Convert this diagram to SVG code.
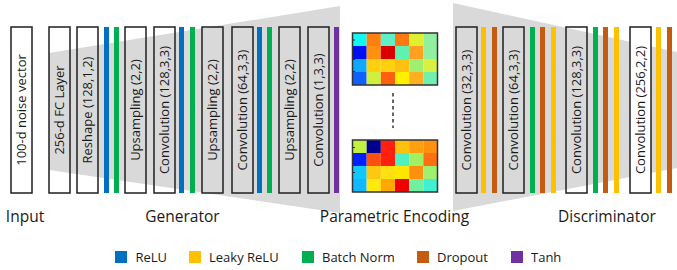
<svg xmlns="http://www.w3.org/2000/svg" width="677" height="270" viewBox="0 0 677 270">
<style>
.bg{fill:#ffffff}
.zone{fill:#d9d9d9}
.box{fill:none;stroke:#1f1f1f;stroke-width:1.5}
.wbox{fill:#ffffff;stroke:#1f1f1f;stroke-width:1.5}
.lbl{font-family:"Open Sans","Liberation Sans",sans-serif;font-size:13px;fill:#1a1a1a;text-anchor:middle}
.cap{font-family:"Open Sans","Liberation Sans",sans-serif;font-size:15.5px;fill:#1a1a1a;text-anchor:middle}
.leg{font-family:"Open Sans","Liberation Sans",sans-serif;font-size:13px;fill:#1a1a1a}
.relu{fill:#0070c0}
.lrelu{fill:#ffc000}
.bn{fill:#00b050}
.drop{fill:#c55a11}
.tanh{fill:#7030a0}
.mframe{fill:none;stroke:#333333;stroke-width:1.5}
.tick{stroke:#333333;stroke-width:1}
</style>
<rect class="bg" x="0" y="0" width="677" height="270"/>

<!-- shaded regions -->
<polygon class="zone" points="49,53 340,6 340,213 49,170"/>
<polygon class="zone" points="453,3 677,52 677,168 453,211"/>

<!-- Input -->
<g id="input">
  <rect class="wbox" x="11" y="27" width="21" height="166"/>
  <text class="lbl" transform="translate(21.5,110) rotate(-90)" dy="0.35em">100-d noise vector</text>
</g>

<!-- Generator -->
<g id="generator">
  <g id="fc"><rect class="box" x="49" y="27" width="21" height="166"/>
    <text class="lbl" transform="translate(59.5,110) rotate(-90)" dy="0.35em">256-d FC Layer</text></g>
  <g id="reshape"><rect class="box" x="77" y="27" width="21" height="166"/>
    <text class="lbl" transform="translate(87.5,110) rotate(-90)" dy="0.35em">Reshape (128,1,2)</text></g>
  <rect class="relu" x="104" y="27" width="5" height="166"/>
  <rect class="bn" x="114" y="27" width="5" height="166"/>
  <g id="up1"><rect class="box" x="125" y="27" width="21" height="166"/>
    <text class="lbl" transform="translate(135.5,110) rotate(-90)" dy="0.35em">Upsampling (2,2)</text></g>
  <g id="gconv1"><rect class="box" x="154" y="27" width="21" height="166"/>
    <text class="lbl" transform="translate(164.5,110) rotate(-90)" dy="0.35em">Convolution (128,3,3)</text></g>
  <rect class="relu" x="179" y="27" width="5" height="166"/>
  <rect class="bn" x="190" y="27" width="5" height="166"/>
  <g id="up2"><rect class="box" x="202" y="27" width="21" height="166"/>
    <text class="lbl" transform="translate(212.5,110) rotate(-90)" dy="0.35em">Upsampling (2,2)</text></g>
  <g id="gconv2"><rect class="box" x="232" y="27" width="21" height="166"/>
    <text class="lbl" transform="translate(242.5,110) rotate(-90)" dy="0.35em">Convolution (64,3,3)</text></g>
  <rect class="relu" x="257" y="27" width="5" height="166"/>
  <rect class="bn" x="267" y="27" width="5" height="166"/>
  <g id="up3"><rect class="box" x="279" y="27" width="21" height="166"/>
    <text class="lbl" transform="translate(289.5,110) rotate(-90)" dy="0.35em">Upsampling (2,2)</text></g>
  <g id="gconv3"><rect class="box" x="308" y="27" width="21" height="166"/>
    <text class="lbl" transform="translate(318.5,110) rotate(-90)" dy="0.35em">Convolution (1,3,3)</text></g>
  <rect class="tanh" x="334" y="27" width="5" height="166"/>
</g>

<!-- Parametric encoding -->
<g id="encoding">
  <g id="matrix1">
    <rect x="352.5" y="33" width="14.17" height="13" fill="#10f8f0"/>
    <rect x="366.67" y="33" width="14.17" height="13" fill="#ff7f10"/>
    <rect x="380.83" y="33" width="14.17" height="13" fill="#60f0c8"/>
    <rect x="395" y="33" width="14.17" height="13" fill="#ff7810"/>
    <rect x="409.17" y="33" width="14.17" height="13" fill="#e0f030"/>
    <rect x="423.33" y="33" width="14.17" height="13" fill="#90f0a0"/>

    <rect x="352.5" y="46" width="14.17" height="13" fill="#0010f0"/>
    <rect x="366.67" y="46" width="14.17" height="13" fill="#ff9010"/>
    <rect x="380.83" y="46" width="14.17" height="13" fill="#d80000"/>
    <rect x="395" y="46" width="14.17" height="13" fill="#60f0b0"/>
    <rect x="409.17" y="46" width="14.17" height="13" fill="#ffa020"/>
    <rect x="423.33" y="46" width="14.17" height="13" fill="#90f0a0"/>

    <rect x="352.5" y="59" width="14.17" height="13" fill="#10a8ff"/>
    <rect x="366.67" y="59" width="14.17" height="13" fill="#ffd010"/>
    <rect x="380.83" y="59" width="14.17" height="13" fill="#ffd010"/>
    <rect x="395" y="59" width="14.17" height="13" fill="#ffc010"/>
    <rect x="409.17" y="59" width="14.17" height="13" fill="#a0f070"/>
    <rect x="423.33" y="59" width="14.17" height="13" fill="#d8f040"/>

    <rect x="352.5" y="72" width="14.17" height="13" fill="#1060ff"/>
    <rect x="366.67" y="72" width="14.17" height="13" fill="#d0f040"/>
    <rect x="380.83" y="72" width="14.17" height="13" fill="#ff6010"/>
    <rect x="395" y="72" width="14.17" height="13" fill="#fff000"/>
    <rect x="409.17" y="72" width="14.17" height="13" fill="#ffb020"/>
    <rect x="423.33" y="72" width="14.17" height="13" fill="#70f0b0"/>
    <rect class="mframe" x="352.5" y="33" width="85" height="52"/>
    <line class="tick" x1="352.5" y1="40" x2="355" y2="40"/>
    <line class="tick" x1="352.5" y1="59.5" x2="355" y2="59.5"/>
    <line class="tick" x1="352.5" y1="71.5" x2="355" y2="71.5"/>
  </g>
  <line x1="393" y1="93" x2="393" y2="128" stroke="#333333" stroke-width="1.5" stroke-dasharray="3.5,3"/>
  <g id="matrix2">
    <rect x="352.5" y="140" width="14.17" height="13" fill="#c0f040"/>
    <rect x="366.67" y="140" width="14.17" height="13" fill="#000090"/>
    <rect x="380.83" y="140" width="14.17" height="13" fill="#ff2010"/>
    <rect x="395" y="140" width="14.17" height="13" fill="#ffc010"/>
    <rect x="409.17" y="140" width="14.17" height="13" fill="#ffa010"/>
    <rect x="423.33" y="140" width="14.17" height="13" fill="#ff9010"/>

    <rect x="352.5" y="153" width="14.17" height="13" fill="#0020ff"/>
    <rect x="366.67" y="153" width="14.17" height="13" fill="#ff5010"/>
    <rect x="380.83" y="153" width="14.17" height="13" fill="#ff2010"/>
    <rect x="395" y="153" width="14.17" height="13" fill="#50f0c0"/>
    <rect x="409.17" y="153" width="14.17" height="13" fill="#a0f060"/>
    <rect x="423.33" y="153" width="14.17" height="13" fill="#ff7010"/>

    <rect x="352.5" y="166" width="14.17" height="13" fill="#10c8ff"/>
    <rect x="366.67" y="166" width="14.17" height="13" fill="#ffc810"/>
    <rect x="380.83" y="166" width="14.17" height="13" fill="#ffe010"/>
    <rect x="395" y="166" width="14.17" height="13" fill="#ffe800"/>
    <rect x="409.17" y="166" width="14.17" height="13" fill="#ff9010"/>
    <rect x="423.33" y="166" width="14.17" height="13" fill="#a0f070"/>

    <rect x="352.5" y="179" width="14.17" height="13" fill="#10b8ff"/>
    <rect x="366.67" y="179" width="14.17" height="13" fill="#ffea10"/>
    <rect x="380.83" y="179" width="14.17" height="13" fill="#ffa800"/>
    <rect x="395" y="179" width="14.17" height="13" fill="#f00000"/>
    <rect x="409.17" y="179" width="14.17" height="13" fill="#70f0a0"/>
    <rect x="423.33" y="179" width="14.17" height="13" fill="#40f0d0"/>
    <rect class="mframe" x="352.5" y="140" width="85" height="52"/>
    <line class="tick" x1="352.5" y1="147.5" x2="355" y2="147.5"/>
    <line class="tick" x1="352.5" y1="172.5" x2="355" y2="172.5"/>
  </g>
</g>

<!-- Discriminator -->
<g id="discriminator">
  <g id="dconv1"><rect class="box" x="456" y="27" width="21" height="166"/>
    <text class="lbl" transform="translate(466.5,110) rotate(-90)" dy="0.35em">Convolution (32,3,3)</text></g>
  <rect class="lrelu" x="481" y="27" width="5" height="166"/>
  <rect class="drop" x="492" y="27" width="5" height="166"/>
  <g id="dconv2"><rect class="box" x="503" y="27" width="21" height="166"/>
    <text class="lbl" transform="translate(513.5,110) rotate(-90)" dy="0.35em">Convolution (64,3,3)</text></g>
  <rect class="bn" x="530" y="27" width="5" height="166"/>
  <rect class="drop" x="540" y="27" width="5" height="166"/>
  <rect class="lrelu" x="551" y="27" width="5" height="166"/>
  <g id="dconv3"><rect class="box" x="566" y="27" width="21" height="166"/>
    <text class="lbl" transform="translate(576.5,110) rotate(-90)" dy="0.35em">Convolution (128,3,3)</text></g>
  <rect class="bn" x="593" y="27" width="5" height="166"/>
  <rect class="drop" x="603" y="27" width="5" height="166"/>
  <rect class="lrelu" x="614" y="27" width="5" height="166"/>
  <g id="dconv4"><rect class="wbox" x="630" y="27" width="21" height="166"/>
    <text class="lbl" transform="translate(640.5,110) rotate(-90)" dy="0.35em">Convolution (256,2,2)</text></g>
  <rect class="lrelu" x="656" y="27" width="5" height="166"/>
  <rect class="drop" x="667" y="27" width="5" height="166"/>
</g>

<g id="connectors"/>

<!-- section captions -->
<g id="captions">
  <text class="cap" x="25" y="222">Input</text>
  <text class="cap" x="182.5" y="222">Generator</text>
  <text class="cap" x="394.5" y="222">Parametric Encoding</text>
  <text class="cap" x="607" y="222">Discriminator</text>
</g>

<!-- legend -->
<g id="legend">
  <rect class="relu" x="115" y="251" width="12" height="12"/>
  <text class="leg" x="135.5" y="262">ReLU</text>
  <rect class="lrelu" x="189" y="251" width="12" height="12"/>
  <text class="leg" x="209" y="262">Leaky ReLU</text>
  <rect class="bn" x="302" y="251" width="12" height="12"/>
  <text class="leg" x="322" y="262">Batch Norm</text>
  <rect class="drop" x="417" y="251" width="12" height="12"/>
  <text class="leg" x="437" y="262">Dropout</text>
  <rect class="tanh" x="511" y="251" width="12" height="12"/>
  <text class="leg" x="531" y="262">Tanh</text>
</g>
</svg>
